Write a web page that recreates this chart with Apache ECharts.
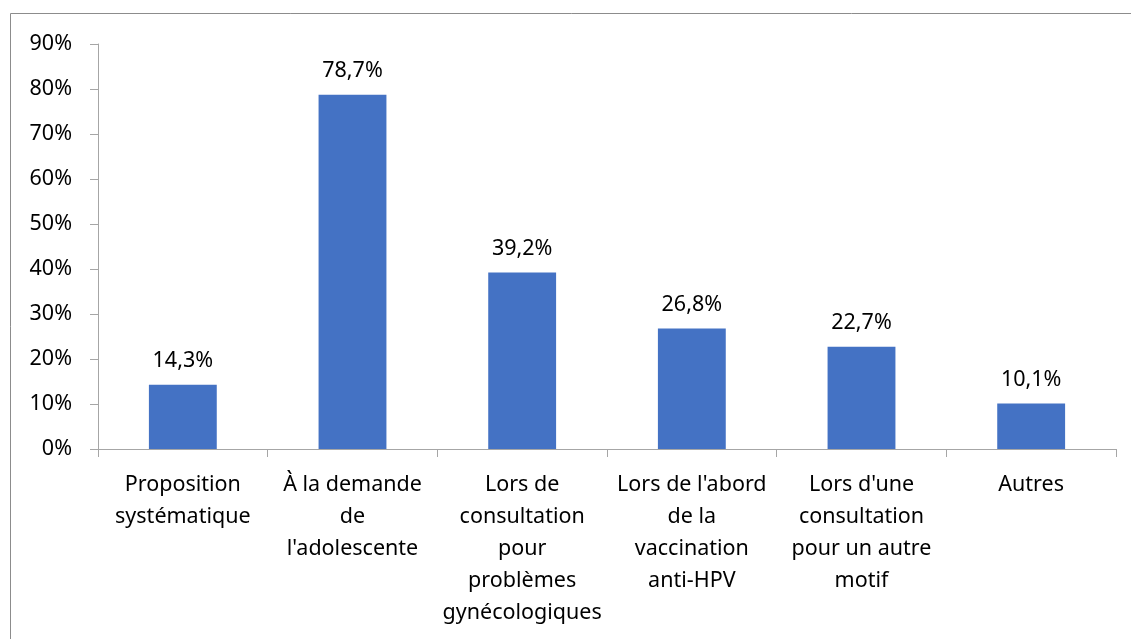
<!DOCTYPE html>
<html>
<head>
<meta charset="utf-8">
<script src="https://cdn.jsdelivr.net/npm/echarts@6/dist/echarts.min.js"></script>
<style>
  html, body { margin: 0; padding: 0; background: #fff; }
  #chart { width: 1131px; height: 639px; }
</style>
</head>
<body>
<div id="chart"></div>
<script>
// catégories (retours à la ligne comme dans l'original)
const categories = [
  "Proposition\nsystématique",
  "À la demande\nde\nl'adolescente",
  "Lors de\nconsultation\npour\nproblèmes\ngynécologiques",
  "Lors de l'abord\nde la\nvaccination\nanti-HPV",
  "Lors d'une\nconsultation\npour un autre\nmotif",
  "Autres"
];
// pourcentages
const values = [14.3, 78.7, 39.2, 26.8, 22.7, 10.1];
const yTicks = { min: 0, max: 90, step: 10 };

const font = "Noto Sans";
const chart = echarts.init(document.getElementById("chart"));
chart.setOption({
  animation: false,
  textStyle: { fontFamily: font },
  graphic: [
    {
      type: "rect",
      shape: { x: 10.5, y: 13.5, width: 1140, height: 650 },
      style: { fill: "none", stroke: "#8c8c8c", lineWidth: 1 }
    }
  ],
  grid: { left: 98, right: 15, top: 44, bottom: 190 },
  xAxis: {
    type: "category",
    data: categories,
    axisLine: { lineStyle: { color: "#a6a6a6" } },
    axisTick: { show: true, length: 8, lineStyle: { color: "#a6a6a6" } },
    axisLabel: {
      interval: 0,
      margin: 20,
      color: "#000",
      fontSize: 21.5,
      lineHeight: 32,
      fontFamily: font
    }
  },
  yAxis: {
    type: "value",
    min: yTicks.min,
    max: yTicks.max,
    interval: yTicks.step,
    axisLine: { show: true, lineStyle: { color: "#a6a6a6" } },
    axisTick: { show: true, length: 8, lineStyle: { color: "#a6a6a6" } },
    splitLine: { show: false },
    axisLabel: {
      formatter: "{value}%",
      margin: 26,
      color: "#000",
      fontSize: 21.5,
      fontFamily: font
    }
  },
  series: [
    {
      type: "bar",
      data: values,
      barWidth: "40%",
      itemStyle: { color: "#4472C4" },
      label: {
        show: true,
        position: "top",
        distance: 13,
        color: "#000",
        fontSize: 21.5,
        fontFamily: font,
        formatter: p => p.value.toFixed(1).replace(".", ",") + "%"
      }
    }
  ]
});
</script>
</body>
</html>
